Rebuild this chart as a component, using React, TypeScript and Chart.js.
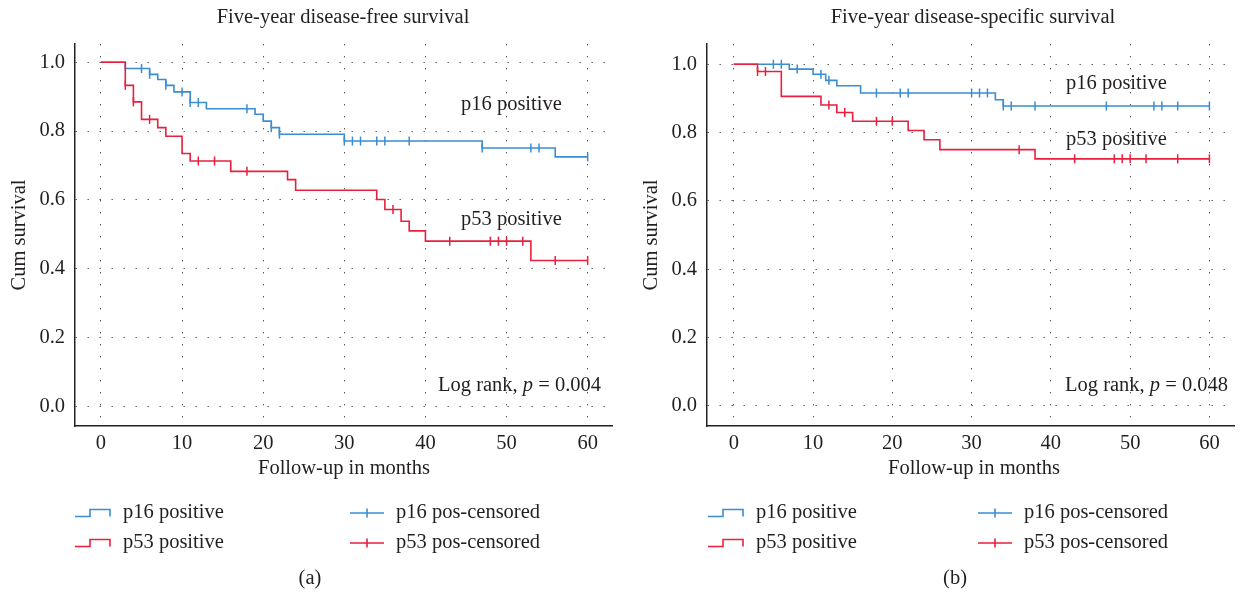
import React, { useEffect, useRef } from 'react';
import { Chart, registerables } from 'chart.js';

Chart.register(...registerables);

// ---------- Data: panel (a) five-year disease-free survival ----------
const dfsP16Months = [0, 3, 6, 7, 8, 9, 11, 13, 19, 20, 21, 22, 30, 47, 56, 60];
const dfsP16Surv = [1.0, 0.982, 0.965, 0.95, 0.933, 0.914, 0.883, 0.865, 0.849, 0.829, 0.81, 0.791, 0.771, 0.751, 0.725, 0.725];
const dfsP16Censored = [5, 6, 8, 10, 11, 12, 18, 21, 22, 30, 31, 32, 34, 35, 38, 47, 53, 54, 60];
const dfsP53Months = [0, 3, 4, 5, 7, 8, 10, 11, 16, 23, 24, 34, 35, 37, 38, 40, 53, 60];
const dfsP53Surv = [1.0, 0.933, 0.885, 0.834, 0.81, 0.785, 0.735, 0.713, 0.683, 0.659, 0.628, 0.601, 0.572, 0.538, 0.51, 0.48, 0.424, 0.424];
const dfsP53Censored = [3, 4, 6, 12, 14, 18, 36, 43, 48, 49, 50, 52, 56, 60];

// ---------- Data: panel (b) five-year disease-specific survival ----------
const dssP16Months = [0, 7, 10, 11.6, 13, 16, 33, 34, 60];
const dssP16Surv = [1.0, 0.986, 0.971, 0.953, 0.937, 0.916, 0.896, 0.878, 0.878];
const dssP16Censored = [5, 6, 8, 11, 12, 18, 21, 22, 30, 31, 32, 34, 35, 38, 47, 53, 54, 56, 60];
const dssP53Months = [0, 3, 6, 11, 13, 15, 22, 24, 26, 38, 60];
const dssP53Surv = [1.0, 0.979, 0.906, 0.881, 0.859, 0.833, 0.806, 0.779, 0.75, 0.723, 0.723];
const dssP53Censored = [3, 4, 12, 14, 18, 20, 36, 43, 48, 49, 50, 52, 56, 60];

// ---------- Axis ticks & labels ----------
const xTickValues = [0, 10, 20, 30, 40, 50, 60];
const yTickValues = [0, 0.2, 0.4, 0.6, 0.8, 1.0];
const titles = ['Five-year disease-free survival', 'Five-year disease-specific survival'];
const pValues = ['0.004', '0.048'];
const captions = ['(a)', '(b)'];
const legendLabels = ['p16 positive', 'p53 positive', 'p16 pos-censored', 'p53 pos-censored'];
const curveLabels = ['p16 positive', 'p53 positive'];

const BLUE = '#3a8dd0';
const RED = '#e8203e';
const TEXT = '#231f20';
const FONT = '"Liberation Serif", "Times New Roman", serif';
const FS = 20.5;

function survAt(months: number[], surv: number[], t: number) {
  let v = surv[0];
  for (let i = 0; i < months.length; i++) if (months[i] <= t) v = surv[i];
  return v;
}

type Layout = {
  areaLeft: number;
  areaRight: number;
  xMin: number;
  xMax: number;
  yMin: number;
  yMax: number;
  titleX: number;
  yTitleX: number;
  xTitleX: number;
  curveLabelX: number;
  curveLabelY: [number, number];
  logRankRight: number;
  legendX1: number;
  legendX2: number;
  captionX: number;
};

const layouts: Layout[] = [
  {
    areaLeft: 75, areaRight: 612, xMin: -3.2, xMax: 63, yMin: -0.0573, yMax: 1.0532,
    titleX: 343, yTitleX: 20, xTitleX: 344, curveLabelX: 461, curveLabelY: [105, 220],
    logRankRight: 601, legendX1: 75, legendX2: 350, captionX: 310,
  },
  {
    areaLeft: 87, areaRight: 619, xMin: -3.375, xMax: 63.1, yMin: -0.0595, yMax: 1.0595,
    titleX: 353, yTitleX: 32, xTitleX: 354, curveLabelX: 446, curveLabelY: [84, 140],
    logRankRight: 608, legendX1: 88, legendX2: 358, captionX: 335,
  },
];

const panels = [
  { p16: [dfsP16Months, dfsP16Surv, dfsP16Censored], p53: [dfsP53Months, dfsP53Surv, dfsP53Censored] },
  { p16: [dssP16Months, dssP16Surv, dssP16Censored], p53: [dssP53Months, dssP53Surv, dssP53Censored] },
];

function text(ctx: CanvasRenderingContext2D, s: string, x: number, y: number, align: CanvasTextAlign = 'left', style = '') {
  ctx.font = `${style} ${FS}px ${FONT}`.trim();
  ctx.textAlign = align;
  ctx.textBaseline = 'middle';
  ctx.fillStyle = TEXT;
  ctx.fillText(s, x, y);
}

function makeDecorPlugin(idx: number) {
  const L = layouts[idx];
  return {
    id: 'decor' + idx,
    afterDraw(chart: any) {
      const ctx: CanvasRenderingContext2D = chart.ctx;
      ctx.save();
      text(ctx, titles[idx], L.titleX, 18, 'center');
      ctx.save();
      ctx.translate(L.yTitleX, 235);
      ctx.rotate(-Math.PI / 2);
      text(ctx, 'Cum survival', 0, 0, 'center');
      ctx.restore();
      text(ctx, 'Follow-up in months', L.xTitleX, 469, 'center');
      text(ctx, curveLabels[0], L.curveLabelX, L.curveLabelY[0]);
      text(ctx, curveLabels[1], L.curveLabelX, L.curveLabelY[1]);
      ctx.font = `${FS}px ${FONT}`;
      const a = 'Log rank, ';
      const b = 'p';
      const c = ' = ' + pValues[idx];
      const wa = ctx.measureText(a).width;
      const wc = ctx.measureText(c).width;
      ctx.font = `italic ${FS}px ${FONT}`;
      const wb = ctx.measureText(b).width;
      const sx = L.logRankRight - (wa + wb + wc);
      text(ctx, a, sx, 386);
      text(ctx, b, sx + wa, 386, 'left', 'italic');
      text(ctx, c, sx + wa + wb, 386);
      const rows = [513, 543];
      const colors = [BLUE, RED];
      ctx.lineWidth = 1.6;
      for (let r = 0; r < 2; r++) {
        const y = rows[r];
        ctx.strokeStyle = colors[r];
        ctx.beginPath();
        ctx.moveTo(L.legendX1, y + 3.5);
        ctx.lineTo(L.legendX1 + 15, y + 3.5);
        ctx.lineTo(L.legendX1 + 15, y - 3.5);
        ctx.lineTo(L.legendX1 + 35, y - 3.5);
        ctx.lineTo(L.legendX1 + 35, y + 3.5);
        ctx.stroke();
        text(ctx, legendLabels[r], L.legendX1 + 48, y);
        ctx.strokeStyle = colors[r];
        ctx.beginPath();
        ctx.moveTo(L.legendX2, y);
        ctx.lineTo(L.legendX2 + 34, y);
        ctx.moveTo(L.legendX2 + 17, y - 4.5);
        ctx.lineTo(L.legendX2 + 17, y + 4.5);
        ctx.stroke();
        text(ctx, legendLabels[r + 2], L.legendX2 + 46, y);
      }
      text(ctx, captions[idx], L.captionX, 579, 'center');
      ctx.restore();
    },
  };
}

function buildConfig(idx: number): any {
  const L = layouts[idx];
  const P = panels[idx];
  const stepDs = (label: string, src: number[][], color: string, order: number) => ({
    label,
    data: src[0].map((m, i) => ({ x: m, y: src[1][i] })),
    borderColor: color,
    borderWidth: 1.6,
    stepped: 'before',
    pointRadius: 0,
    pointHoverRadius: 0,
    fill: false,
    order,
  });
  const censDs = (label: string, src: number[][], color: string, order: number) => ({
    label,
    data: src[2].map((t) => ({ x: t, y: survAt(src[0], src[1], t) })),
    showLine: false,
    borderColor: color,
    backgroundColor: color,
    pointStyle: 'line',
    pointRotation: 90,
    pointRadius: 4.5,
    pointHoverRadius: 4.5,
    pointBorderWidth: 1.5,
    pointBorderColor: color,
    order,
  });
  const gridCommon = { color: '#555', lineWidth: 1, drawTicks: false };
  const borderCommon = { display: true, color: '#222', width: 1.5, dash: [1.4, 10.6] };
  const tickFont = { family: FONT, size: FS };
  return {
    type: 'line',
    data: {
      datasets: [
        censDs(legendLabels[3], P.p53, RED, 0),
        censDs(legendLabels[2], P.p16, BLUE, 1),
        stepDs(legendLabels[1], P.p53, RED, 2),
        stepDs(legendLabels[0], P.p16, BLUE, 3),
      ],
    },
    options: {
      responsive: false,
      animation: false,
      events: [],
      layout: { padding: { left: 0, right: 620 - L.areaRight, top: 44, bottom: 597 - 426 - 30 } },
      plugins: { legend: { display: false }, title: { display: false }, tooltip: { enabled: false } },
      scales: {
        x: {
          type: 'linear',
          min: L.xMin,
          max: L.xMax,
          afterBuildTicks: (s: any) => { s.ticks = xTickValues.map((v) => ({ value: v })); },
          afterFit: (s: any) => { s.height = 30; },
          grid: gridCommon,
          border: borderCommon,
          ticks: { padding: 5, font: tickFont, color: TEXT, maxRotation: 0, callback: (v: any) => String(v) },
        },
        y: {
          type: 'linear',
          min: L.yMin,
          max: L.yMax,
          afterBuildTicks: (s: any) => { s.ticks = yTickValues.map((v) => ({ value: v })); },
          afterFit: (s: any) => { s.width = L.areaLeft; },
          grid: gridCommon,
          border: borderCommon,
          ticks: { padding: 10, font: tickFont, color: TEXT, callback: (v: any) => Number(v).toFixed(1) },
        },
      },
    },
    plugins: [makeDecorPlugin(idx)],
  };
}

function Panel({ idx }: { idx: number }) {
  const ref = useRef<HTMLCanvasElement | null>(null);
  useEffect(() => {
    if (!ref.current) return;
    const chart = new Chart(ref.current, buildConfig(idx));
    let alive = true;
    if ((document as any).fonts && (document as any).fonts.load) {
      Promise.all([
        (document as any).fonts.load(`${FS}px "Liberation Serif"`),
        (document as any).fonts.load(`italic ${FS}px "Liberation Serif"`),
      ]).then(() => { if (alive) chart.update(); }).catch(() => {});
    }
    return () => { alive = false; chart.destroy(); };
  }, [idx]);
  return <canvas ref={ref} width={620} height={597} style={{ display: 'block', width: 620, height: 597 }} />;
}

export default function App() {
  return (
    <div style={{ position: 'absolute', left: 0, top: 0, width: 1240, height: 597, background: '#fff', display: 'flex' }}>
      <Panel idx={0} />
      <Panel idx={1} />
    </div>
  );
}
